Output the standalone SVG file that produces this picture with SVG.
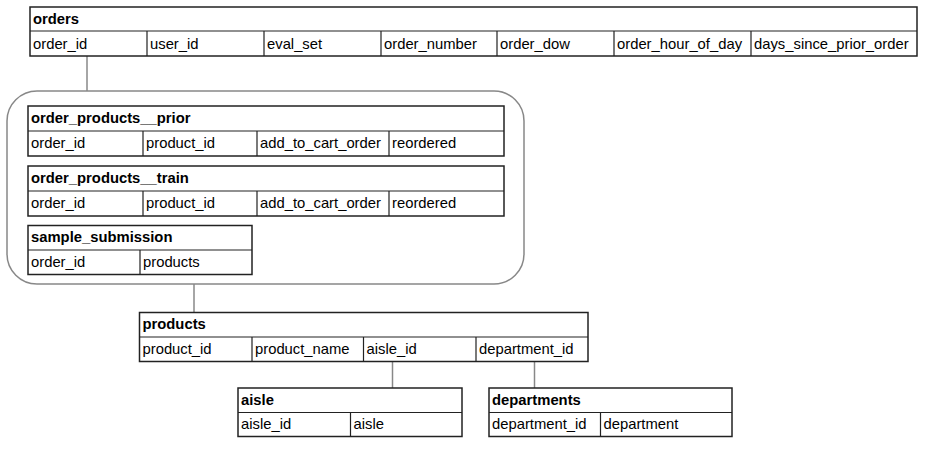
<svg xmlns="http://www.w3.org/2000/svg" width="925" height="449" viewBox="0 0 925 449">
<style>
.t{fill:#fff;stroke:#222;stroke-width:1.5}
.d{stroke:#222;stroke-width:1.2;fill:none}
.h{font-family:"Liberation Sans",Arial,sans-serif;font-size:14.8px;font-weight:bold;fill:#000}
.c{font-family:"Liberation Sans",Arial,sans-serif;font-size:14.8px;fill:#000}
.e{stroke:#888;stroke-width:1.5;fill:none}
</style>
<rect width="925" height="449" fill="#fff"/>
<g id="connectors">
<line class="e" x1="87" y1="56" x2="87" y2="91"/>
<line class="e" x1="194" y1="284" x2="194" y2="312"/>
<line class="e" x1="392.5" y1="362" x2="392.5" y2="388"/>
<line class="e" x1="534.5" y1="362" x2="534.5" y2="388"/>
</g>
<g id="group">
<rect x="7" y="91" width="517" height="193" rx="30" ry="30" class="e"/>
</g>
<g id="orders">
<rect class="t" x="30" y="7" width="887" height="49"/>
<path class="d" d="M30 31H917M147 31V56M264 31V56M381 31V56M497 31V56M614 31V56M751 31V56"/>
<text class="h" x="33" y="24">orders</text>
<text class="c" x="33" y="49">order_id</text>
<text class="c" x="150" y="49">user_id</text>
<text class="c" x="267" y="49">eval_set</text>
<text class="c" x="384" y="49">order_number</text>
<text class="c" x="500" y="49">order_dow</text>
<text class="c" x="617" y="49">order_hour_of_day</text>
<text class="c" x="754" y="49">days_since_prior_order</text>
</g>
<g id="order_products__prior">
<rect class="t" x="28" y="106" width="476" height="50"/>
<path class="d" d="M28 131H504M143 131V156M257 131V156M389 131V156"/>
<text class="h" x="31" y="123">order_products__prior</text>
<text class="c" x="31" y="148">order_id</text>
<text class="c" x="146" y="148">product_id</text>
<text class="c" x="260" y="148">add_to_cart_order</text>
<text class="c" x="392" y="148">reordered</text>
</g>
<g id="order_products__train">
<rect class="t" x="28" y="166" width="476" height="50"/>
<path class="d" d="M28 191H504M143 191V216M257 191V216M389 191V216"/>
<text class="h" x="31" y="183">order_products__train</text>
<text class="c" x="31" y="208">order_id</text>
<text class="c" x="146" y="208">product_id</text>
<text class="c" x="260" y="208">add_to_cart_order</text>
<text class="c" x="392" y="208">reordered</text>
</g>
<g id="sample_submission">
<rect class="t" x="28" y="225.5" width="224" height="49"/>
<path class="d" d="M28 250H252M140 250V274.5"/>
<text class="h" x="31" y="242">sample_submission</text>
<text class="c" x="31" y="267">order_id</text>
<text class="c" x="143" y="267">products</text>
</g>
<g id="products">
<rect class="t" x="139.5" y="312.5" width="448.5" height="49"/>
<path class="d" d="M139.5 337H588M252 337V361.5M363.5 337V361.5M476 337V361.5"/>
<text class="h" x="142.5" y="329">products</text>
<text class="c" x="142.5" y="354">product_id</text>
<text class="c" x="255" y="354">product_name</text>
<text class="c" x="366.5" y="354">aisle_id</text>
<text class="c" x="479" y="354">department_id</text>
</g>
<g id="aisle">
<rect class="t" x="238" y="388" width="224" height="48.5"/>
<path class="d" d="M238 412.5H462M350.5 412.5V436.5"/>
<text class="h" x="241" y="405">aisle</text>
<text class="c" x="241" y="429">aisle_id</text>
<text class="c" x="353.5" y="429">aisle</text>
</g>
<g id="departments">
<rect class="t" x="489" y="388" width="243" height="48.5"/>
<path class="d" d="M489 412.5H732M600.5 412.5V436.5"/>
<text class="h" x="492" y="405">departments</text>
<text class="c" x="492" y="429">department_id</text>
<text class="c" x="603.5" y="429">department</text>
</g>
</svg>
